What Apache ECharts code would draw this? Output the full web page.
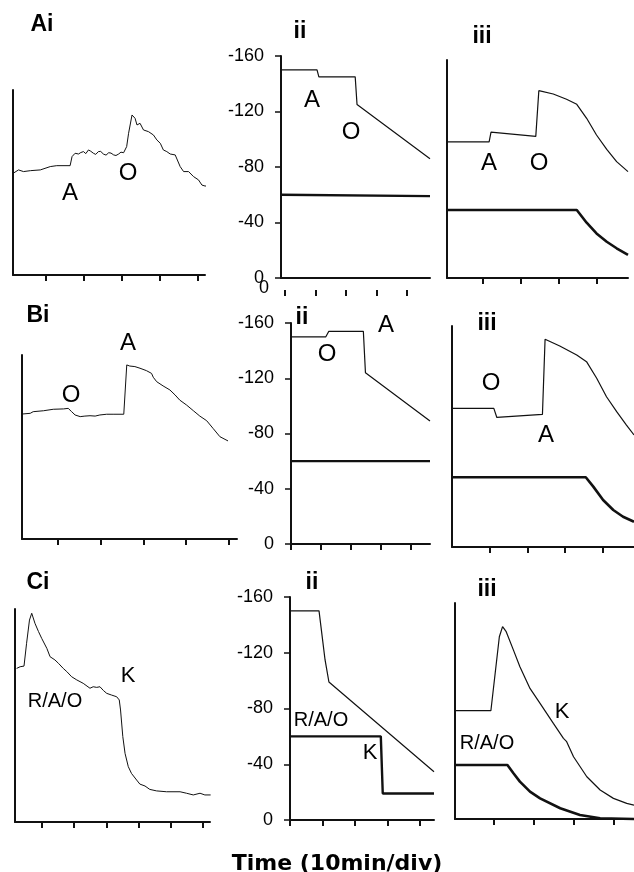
<!DOCTYPE html>
<html>
<head>
<meta charset="utf-8">
<script src="https://cdn.jsdelivr.net/npm/echarts@6/dist/echarts.min.js"></script>
<style>
html,body{margin:0;padding:0;background:#fff;}
#chart{width:634px;height:872px;}
</style>
</head>
<body>
<div id="chart"></div>
<script>
// ---------- DATA (time in min, 10 min/div) ----------
// Panel i traces (arbitrary units, 0-100 of axis height)
const ai_trace = [[1.6,55.0],[3.0,56.8],[4.3,55.9],[6.1,56.4],[8.7,56.8],[11.3,58.6],[13.0,59.1],[16.5,59.1],[17.0,64.0],[17.8,65.8],[18.7,65.4],[19.3,66.2],[20.0,66.7],[20.6,65.6],[21.3,67.6],[21.9,66.9],[22.6,65.8],[23.2,65.2],[23.9,66.7],[24.5,66.8],[25.2,65.4],[25.9,64.8],[26.6,66.1],[27.2,65.9],[27.9,64.9],[28.5,64.6],[29.2,65.4],[29.8,66.4],[30.5,66.1],[31.3,69.4],[31.8,76.6],[32.7,86.5],[33.5,84.7],[34.0,81.1],[34.8,82.0],[35.7,78.4],[37.0,77.5],[38.3,75.7],[39.2,73.0],[40.1,71.2],[40.9,67.6],[41.8,66.7],[42.7,65.4],[44.0,64.9],[44.4,64.0],[45.3,58.6],[46.2,55.9],[47.5,55.9],[48.8,53.2],[50.1,51.4],[51.0,48.6],[51.8,48.1],[54.0,48.1]];
const bi_trace = [[1.5,67.9],[3.5,68.3],[4.2,69.2],[6.6,69.7],[8.9,70.5],[11.3,70.7],[12.4,71.0],[13.2,69.2],[14.0,67.4],[15.2,66.5],[16.3,66.8],[17.5,67.0],[18.7,66.8],[19.8,67.4],[21.4,67.8],[22.9,67.8],[25.4,67.8],[26.1,94.6],[26.8,94.0],[28.0,93.7],[29.2,92.8],[30.7,91.5],[31.9,90.0],[32.3,87.9],[33.1,85.5],[34.6,83.2],[36.2,81.0],[37.4,78.3],[38.5,75.5],[40.1,72.8],[41.7,69.7],[43.2,66.8],[44.8,64.3],[46.3,60.1],[47.9,55.6],[49.8,53.3]];
const ci_trace = [[2.1,72.1],[3.2,72.9],[3.7,72.1],[4.4,73.2],[5.2,83.9],[6.1,94.8],[6.8,98.0],[7.3,97.2],[7.8,93.3],[8.9,89.4],[9.9,86.2],[11.5,81.5],[12.5,77.6],[14.0,76.1],[15.1,74.5],[16.6,72.1],[17.7,70.6],[19.2,68.2],[20.8,66.7],[22.8,65.1],[24.9,62.8],[25.9,63.5],[27.0,63.2],[28.0,63.5],[29.1,61.7],[30.1,60.4],[31.6,59.6],[33.2,58.8],[34.0,57.3],[34.4,52.6],[35.1,40.1],[35.8,32.2],[36.8,26.0],[37.8,22.8],[39.4,19.7],[40.4,17.8],[42.0,16.9],[43.5,15.3],[45.6,14.6],[48.7,14.2],[52.9,14.2],[54.9,13.5],[57.0,12.7],[59.1,13.5],[60.6,12.7],[62.4,12.7]];

// Panel ii (mV)
const aii_upper = [[-1.3,-150],[10.5,-150],[11.1,-145],[23.0,-145],[23.6,-125],[47.5,-86]];
const aii_lower = [[-1.3,-60],[47.5,-59]];
const bii_upper = [[0.3,-150],[11.6,-150],[12.6,-154],[24.1,-154],[24.8,-124],[46.3,-89]];
const bii_lower = [[0.3,-60],[46.3,-60]];
const cii_upper = [[0,-150],[8.95,-150],[10.8,-115],[12.0,-99],[44.4,-34.6]];
const cii_lower = [[0,-60],[28.0,-60],[28.6,-19],[44.4,-19]];

// Panel iii
const aiii_upper = [[0.5,-98],[11.6,-98],[12.1,-105],[23.9,-102],[24.7,-134.9],[28.5,-132.5],[32.0,-128.7],[34.7,-125.1],[37.3,-115],[39.9,-103],[42.6,-92.7],[45.2,-83.8],[48.2,-76.6]];
const aiii_lower = [[0.5,-49],[34.7,-49],[37.3,-39.8],[39.9,-32.1],[42.6,-26.1],[45.2,-21.4],[48.2,-16.6]];
const biii_upper = [[0,-100.4],[11.1,-100.4],[11.9,-93.8],[24.0,-96.0],[24.7,-150.4],[28.6,-145.5],[33.1,-139],[35.7,-134.2],[38.4,-122.2],[41.0,-108.8],[43.7,-98],[46.3,-88.3],[48.3,-81.1]];
const biii_lower = [[0,-50.5],[35.5,-50.5],[37.5,-43.7],[40.1,-34],[42.8,-26.8],[45.4,-21.9],[48.3,-18.3]];
const ciii_upper = [[0.5,-77.7],[9.4,-77.7],[11.5,-130.8],[12.3,-138],[13.2,-134.4],[15.0,-121.2],[16.6,-109.3],[19.1,-93.7],[21.6,-83],[24.9,-68.6],[27.4,-57.9],[28.2,-55.5],[29.9,-44.7],[33.2,-30.3],[36.5,-20.8],[39.8,-14.8],[43.1,-11.2],[44.9,-10]];
const ciii_lower = [[0.5,-38.7],[13.5,-38.7],[15.0,-32.8],[16.6,-26.8],[19.1,-19.6],[21.6,-14.8],[26.6,-7.7],[31.5,-2.9],[36.5,-0.5],[44.9,0]];

// Tick values (min)
const ticks_i_ab = [10,20,30,40,50];
const ticks_i_c = [10,20,30,40,50,60];
const ticks_ii = [0,10,20,30,40];
const ticks_iii = [10,20,30,40];
const yTicksMv = [-160,-120,-80,-40,0];

// ---------- LAYOUT ----------
const panels = [
  {grid:[13,90,192,185],   x:[1.55,51.8], y:[0,100],   kind:'i',   ticks:ticks_i_ab, series:[[ai_trace,1]]},
  {grid:[281,56,149,222],  x:[-1.3,47.5], y:[-160,0],  kind:'ii',  ticks:ticks_ii, tickOffset:12, series:[[aii_upper,1.2],[aii_lower,2.4]]},
  {grid:[447,60,181,218],  x:[0.5,48.2],  y:[-157,0],  kind:'iii', ticks:ticks_iii, series:[[aiii_upper,1.2],[aiii_lower,2.6]]},
  {grid:[22,355,215,184],  x:[1.58,51.9], y:[0,100],   kind:'i',   ticks:ticks_i_ab, series:[[bi_trace,1]]},
  {grid:[291,323,139,221], x:[0,46.3],    y:[-160,0],  kind:'ii',  ticks:ticks_ii, series:[[bii_upper,1.2],[bii_lower,2.4]]},
  {grid:[452,326,182,221], x:[0,48.3],    y:[-160,0],  kind:'iii', ticks:ticks_iii, series:[[biii_upper,1.2],[biii_lower,2.6]]},
  {grid:[15,609,195,213],  x:[1.6,62.2],  y:[0,100],   kind:'i',   ticks:ticks_i_c, series:[[ci_trace,1]]},
  {grid:[290,597,144,223], x:[0,44.4],    y:[-160,0],  kind:'ii',  ticks:ticks_ii, series:[[cii_upper,1.2],[cii_lower,2.4]]},
  {grid:[455,603,179,216], x:[0.5,44.9],  y:[-155,0],  kind:'iii', ticks:ticks_iii, series:[[ciii_upper,1.2],[ciii_lower,2.6]]}
];

const INK = '#111';
const grids = [], xAxes = [], yAxes = [], series = [];
panels.forEach((p, i) => {
  grids.push({left:p.grid[0], top:p.grid[1], width:p.grid[2], height:p.grid[3], containLabel:false, outerBoundsMode:'none'});
  const tickCfg = {show:true, customValues:p.ticks, length:6, inside:false, lineStyle:{color:INK, width:2}};
  xAxes.push({
    type:'value', gridIndex:i, min:p.x[0], max:p.x[1], position:'bottom',
    axisLine:{show:true, onZero:false, lineStyle:{color:INK, width:2}},
    axisTick: p.tickOffset ? {show:false} : tickCfg,
    axisLabel:{show:false}, splitLine:{show:false}
  });
  if (p.tickOffset) {
    xAxes.push({
      type:'value', gridIndex:i, min:p.x[0], max:p.x[1], position:'bottom', offset:p.tickOffset,
      axisLine:{show:false, onZero:false}, axisTick:tickCfg,
      axisLabel:{show:false}, splitLine:{show:false}
    });
  }
  const isMv = p.kind !== 'i';
  yAxes.push({
    type:'value', gridIndex:i, min:p.y[0], max:p.y[1], inverse:isMv,
    interval: p.kind === 'ii' ? 40 : undefined,
    axisLine:{show:true, onZero:false, lineStyle:{color:INK, width:2}},
    axisTick:{show:p.kind==='ii', length:6, lineStyle:{color:INK, width:1.5}},
    axisLabel:{show:p.kind==='ii', color:'#000', fontSize:18, fontFamily:'Liberation Sans, Arial, sans-serif', margin:17,
      customValues: p.kind==='ii' ? yTicksMv : undefined},
    splitLine:{show:false}
  });
});
// map series to axes
let xi = 0;
panels.forEach((p, i) => {
  p.series.forEach(([d, w]) => {
    series.push({type:'line', xAxisIndex:xi, yAxisIndex:i, data:d, showSymbol:false, symbol:'none',
      clip:false, animation:false, lineStyle:{color:INK, width:w}, silent:true});
  });
  xi += p.tickOffset ? 2 : 1;
});

// ---------- TEXT ----------
function txt(text, x, y, size, bold, align) {
  return {type:'text', x:x, y:y, silent:true, style:{text:text, x:0, y:0,
    font:(bold?'bold ':'') + size + 'px "Liberation Sans", Arial, sans-serif', fill:'#000',
    textAlign:align||'center', textVerticalAlign:'middle', align:align||'center', verticalAlign:'middle'}};
}
const panelTitles = [
  ['Ai',42,25],['ii',300,32],['iii',482,37],
  ['Bi',38,316],['ii',302,318],['iii',487,324],
  ['Ci',38,583],['ii',312,583],['iii',487,590]
];
const annotations = [
  ['A',70,193,24],['O',128,173,24],
  ['A',312,100,24],['O',351,132,24],
  ['A',489,163,24],['O',539,163,24],
  ['O',71,395,24],['A',128,343,24],
  ['O',327,354,24],['A',386,325,24],
  ['O',491,383,24],['A',546,435,24],
  ['K',128,676,22],['R/A/O',55,701,20],
  ['R/A/O',321,720,20],['K',370,753,22],
  ['K',562,712,22],['R/A/O',487,743,20]
];
const graphics = [];
panelTitles.forEach(t => graphics.push(txt(t[0], t[1], t[2], 23, true)));
annotations.forEach(a => graphics.push(txt(a[0], a[1], a[2], a[3], false)));
graphics.push(txt('0', 264, 288, 18, false));
graphics.push({type:'text', x:337, y:864, silent:true, style:{text:'Time (10min/div)', x:0, y:0,
  font:'bold 22px "DejaVu Sans", sans-serif', fill:'#000', textAlign:'center', textVerticalAlign:'middle', align:'center', verticalAlign:'middle'}});

const chart = echarts.init(document.getElementById('chart'), null, {renderer:'canvas'});
chart.setOption({
  backgroundColor:'#fff',
  animation:false,
  grid:grids, xAxis:xAxes, yAxis:yAxes, series:series,
  graphic:{elements:graphics}
});
</script>
</body>
</html>
